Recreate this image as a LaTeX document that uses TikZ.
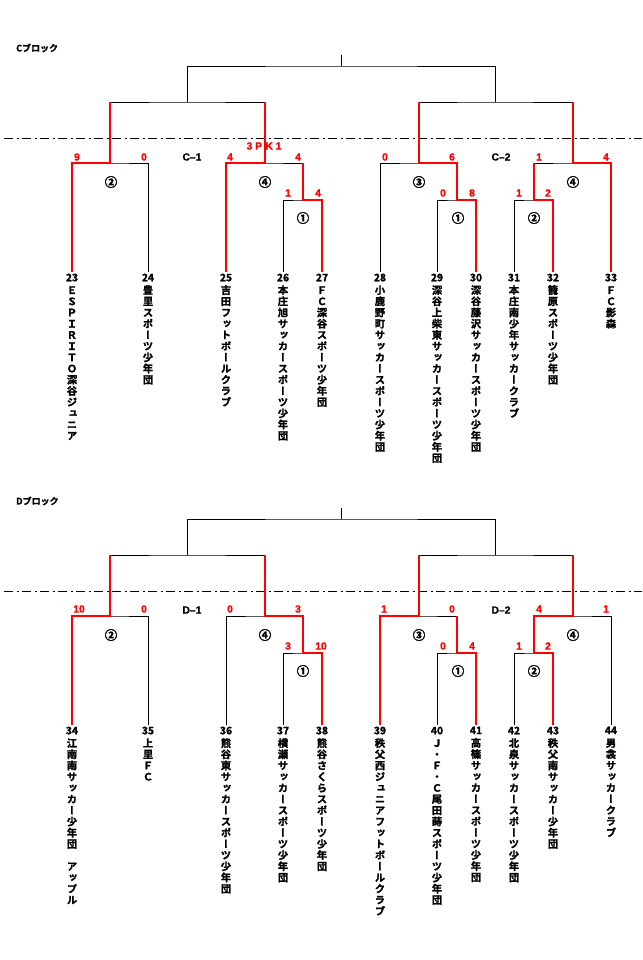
\documentclass[tikz,border=0pt]{standalone}
\usepackage{fontspec}
\setmainfont{Noto Sans CJK JP}[BoldFont={Noto Sans CJK JP Bold},BoldFeatures={FakeBold=1.6}]
\newfontfamily\tatefont{Noto Sans CJK JP}[BoldFont={Noto Sans CJK JP Bold},RawFeature=+vert,BoldFeatures={FakeBold=1.6}]
\newfontfamily\scorefont{Liberation Sans}[BoldFeatures={FakeBold=1}]
\usetikzlibrary{positioning}

\definecolor{winred}{RGB}{255,0,0}

% team names are set one character per line, number on top
\def\tateend{}
\def\tateloop#1{\ifx\tateend#1\else\hbox to 12pt{\hss#1\hss}\expandafter\tateloop\fi}
\newcommand\tate[2]{\vtop{\baselineskip=11.2pt\lineskiplimit=-20pt
  \hbox to 12pt{\hss#1\hss}\vskip1.5pt\expandafter\tateloop#2\tateend}}

\begin{document}
\begin{tikzpicture}[x=1pt,y=-1pt,
    line/.style={draw=black,line width=0.9pt},
    win/.style={draw=winred,line width=2pt},
    team/.style={inner sep=0pt,font=\tatefont\bfseries\fontsize{10.3}{11.2}\selectfont},
    score/.style={inner sep=0pt,text=winred,font=\scorefont\bfseries\fontsize{10.3}{10}\selectfont},
    match/.style={inner sep=0pt,font=\bfseries\fontsize{12.5}{12.5}\selectfont},
    group/.style={inner sep=0pt,font=\scorefont\bfseries\fontsize{10.3}{10}\selectfont},
    block/.style={anchor=west,inner sep=0pt,font=\bfseries\fontsize{9}{9}\selectfont}]
  \useasboundingbox (0,0) rectangle (642,960);

  % frame and labels, the same for both blocks
  \foreach \blk/\dy in {C/0,D/453}{
    \begin{scope}[shift={(0,\dy)}]
      \foreach \i/\x in {1/72,2/148,3/226,4/283,5/322,6/380,7/437,8/476,9/514,10/553,11/611}
        \coordinate (\blk\i) at (\x,272);
      \coordinate (\blk A) at (110,163);
      \coordinate (\blk B) at (302.5,200);
      \coordinate (\blk C) at (264.5,163);
      \coordinate (\blk D) at (187.5,102);
      \coordinate (\blk E) at (456.5,200);
      \coordinate (\blk F) at (418.5,163);
      \coordinate (\blk G) at (533.5,200);
      \coordinate (\blk H) at (572.5,163);
      \coordinate (\blk I) at (495.5,102);
      \coordinate (\blk J) at (341.5,66);
      \coordinate (\blk K) at (341.5,55);
      \coordinate (\blk L) at (4,138);
      \coordinate (\blk R) at (642,138);

      \draw[line] (\blk1) |- (\blk A) -| (\blk2);
      \draw[line] (\blk4) |- (\blk B) -| (\blk5);
      \draw[line] (\blk3) |- (\blk C) -| (\blk B);
      \draw[line] (\blk A) |- (\blk D) -| (\blk C);
      \draw[line] (\blk7) |- (\blk E) -| (\blk8);
      \draw[line] (\blk6) |- (\blk F) -| (\blk E);
      \draw[line] (\blk9) |- (\blk G) -| (\blk10);
      \draw[line] (\blk G) |- (\blk H) -| (\blk11);
      \draw[line] (\blk F) |- (\blk I) -| (\blk H);
      \draw[line] (\blk D) |- (\blk J) -| (\blk I);
      \draw[line] (\blk J) -- (\blk K);
      \draw[line,line width=0.8pt,dash pattern=on 9pt off 3.5pt on 2pt off 3.5pt] (\blk L) -- (\blk R);

      \node[block] (title\blk) at (16,48) {\blk ブロック};
      \node[group] (group\blk1) at (192,157) {\blk–1};
      \node[group] (group\blk2) at (501,157) {\blk–2};
      \node[match] (m\blk a) at (111,182) {②};
      \node[match] (m\blk b) at (303,218) {①};
      \node[match] (m\blk c) at (265,182) {④};
      \node[match] (m\blk e) at (458,218) {①};
      \node[match] (m\blk f) at (419,182) {③};
      \node[match] (m\blk g) at (534,218) {②};
      \node[match] (m\blk h) at (573,182) {④};
    \end{scope}
  }

  % C block
  \draw[win] (C1) |- (CA) -- (CA |- CD);
  \draw[win] (C5) |- (CB) -- (CB |- CC);
  \draw[win] (C3) |- (CC) -- (CC |- CD);
  \draw[win] (C8) |- (CE) |- (CF) -- (CF |- CI);
  \draw[win] (C10) |- (CG) -- (CG |- CH);
  \draw[win] (C11) |- (CH) -- (CH |- CI);

  \node[score] at (77,157) {9};
  \node[score] at (144,157) {0};
  \node[score] at (230,157) {4};
  \node[score] at (298,157) {4};
  \node[score] at (264,146) {3 P\,\,K 1};
  \node[score] at (288,193) {1};
  \node[score] at (318,193) {4};
  \node[score] at (385,157) {0};
  \node[score] at (452,157) {6};
  \node[score] at (443,193) {0};
  \node[score] at (472,193) {8};
  \node[score] at (519,193) {1};
  \node[score] at (548,193) {2};
  \node[score] at (539,157) {1};
  \node[score] at (606,157) {4};

  \foreach \i/\n/\t in {1/23/ＥＳＰＩＲＩＴＯ深谷ジュニア,2/24/豊里スポーツ少年団,
      3/25/吉田フットボールクラブ,4/26/本庄旭サッカースポーツ少年団,
      5/27/ＦＣ深谷スポーツ少年団,6/28/小鹿野町サッカースポーツ少年団,
      7/29/深谷上柴東サッカースポーツ少年団,8/30/深谷藤沢サッカースポーツ少年団,
      9/31/本庄南少年サッカークラブ,10/32/籠原スポーツ少年団,11/33/ＦＣ影森}
    \node[team,below=1.5pt of C\i] (team\n) {\tate{\n}{\t}};

  % D block
  \draw[win] (D1) |- (DA) -- (DA |- DD);
  \draw[win] (D5) |- (DB) |- (DC) -- (DC |- DD);
  \draw[win] (D8) |- (DE) -- (DE |- DF);
  \draw[win] (D6) |- (DF) -- (DF |- DI);
  \draw[win] (D10) |- (DG) |- (DH) -- (DH |- DI);

  \begin{scope}[shift={(0,453)}]
    \node[score] at (79,156) {10};
    \node[score] at (144,156) {0};
    \node[score] at (230,156) {0};
    \node[score] at (298,156) {3};
    \node[score] at (288,193) {3};
    \node[score] at (321,193) {10};
    \node[score] at (384,156) {1};
    \node[score] at (452,156) {0};
    \node[score] at (443,193) {0};
    \node[score] at (472,193) {4};
    \node[score] at (519,193) {1};
    \node[score] at (548,193) {2};
    \node[score] at (539,156) {4};
    \node[score] at (606,156) {1};
  \end{scope}

  \foreach \i/\n/\t in {1/34/江南南サッカー少年団　アップル,2/35/上里ＦＣ,
      3/36/熊谷東サッカースポーツ少年団,4/37/横瀬サッカースポーツ少年団,
      5/38/熊谷さくらスポーツ少年団,6/39/秩父西ジュニアフットボールクラブ,
      7/40/Ｊ・Ｆ・Ｃ尾田蒔スポーツ少年団,8/41/高篠サッカースポーツ少年団,
      9/42/北泉サッカースポーツ少年団,10/43/秩父南サッカー少年団,11/44/男衾サッカークラブ}
    \node[team,below=1.5pt of D\i] (team\n) {\tate{\n}{\t}};
\end{tikzpicture}
\end{document}
